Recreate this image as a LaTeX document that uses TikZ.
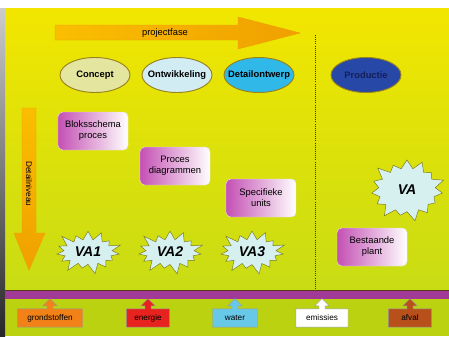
\documentclass[tikz,border=0pt]{standalone}
\usepackage{fontspec}
\setmainfont{Liberation Sans}
\usetikzlibrary{shapes.geometric,shapes.symbols,shapes.arrows,positioning}

\definecolor{geel}{RGB}{242,230,0}
\definecolor{geelgroen}{RGB}{200,220,20}
\definecolor{grasgroen}{RGB}{186,210,16}
\definecolor{oranje}{RGB}{250,190,0}
\definecolor{donkeroranje}{RGB}{240,160,0}
\definecolor{paars}{RGB}{160,58,150}
\definecolor{lila}{RGB}{196,80,180}
\definecolor{rand}{RGB}{150,130,30}
\definecolor{sterrand}{RGB}{120,120,30}
\definecolor{ijsblauw}{RGB}{214,240,240}

\tikzstyle{fase} = [ellipse, draw=rand, thick, minimum width=2.1cm, minimum height=1.05cm, inner sep=0pt,
     label={[font=\footnotesize\bfseries]center:#1}]
\tikzstyle{block} = [rectangle, draw=white!80!gray, rounded corners, left color=lila, right color=white,
     align=center, minimum width=2.1cm, minimum height=1.14cm, font=\footnotesize]
\tikzstyle{va} = [starburst, starburst points=15, starburst point height=0.35cm, draw=sterrand, fill=ijsblauw,
     font=\large\bfseries\itshape, minimum width=2.1cm, minimum height=1.35cm]
\tikzstyle{stroom} = [arrow box, arrow box arrows={north:0.3cm}, arrow box shaft width=0.18cm,
     arrow box head extend=0.13cm, draw=black!40, minimum height=0.55cm, inner sep=1pt, font=\scriptsize]

\begin{document}
\begin{tikzpicture}[x=0.03cm, y=-0.03cm, node distance=2.46cm]
    % Background
    \useasboundingbox (0,0) rectangle (449,336);
    \fill[white] (0,0) rectangle (449,336);
    \shade[top color=geel, bottom color=geelgroen] (5,8) rectangle (449,290);
    \fill[grasgroen] (5,299) rectangle (449,336);
    \shade[top color=black!20, bottom color=black!85] (0,8) rectangle (5,336);
    \fill[paars] (5,290) rectangle (449,299);
    \draw[black!55!brown, thick] (5,290) -- (449,290);

    % Arrows
    \draw[donkeroranje, left color=oranje, right color=donkeroranje]
        (55,25) -- (238,25) -- (238,17) -- (300,33) -- (238,49) -- (238,40) -- (55,40) -- cycle;
    \node [font=\footnotesize] (projectfase) at (165,33) {projectfase};
    \draw[donkeroranje, top color=oranje, bottom color=donkeroranje]
        (22,108) -- (36,108) -- (36,233) -- (45,233) -- (29,270) -- (14,233) -- (22,233) -- cycle;
    \node [rotate=-90, font=\scriptsize] (detailniveau) at (29,184) {Detailniveau};

    % Place nodes
    \node [fase=Concept, fill={rgb,255:red,228;green,230;blue,160}] (concept) at (95,75) {};
    \node [fase=Ontwikkeling, right of=concept, fill={rgb,255:red,210;green,236;blue,244}] (ontwikkeling) {};
    \node [fase=Detailontwerp, right of=ontwikkeling, fill={rgb,255:red,48;green,184;blue,232}] (detailontwerp) {};
    \node [fase={\color[RGB]{20,30,90}Productie}, right of=detailontwerp, node distance=3.21cm,
           fill={rgb,255:red,40;green,72;blue,168}] (productie) {};

    \node [block] (blokschema) at (93,131) {Bloksschema\\ proces};
    \node [block] (procesdiagrammen) at (175,166) {Proces\\ diagrammen};
    \node [block] (units) at (261,198) {Specifieke\\ units};
    \node [block] (bestaand) at (372,247) {Bestaande\\ plant};

    \node [va] (va1) at (88,252) {VA1};
    \node [va, right of=va1] (va2) {VA2};
    \node [va, right of=va2] (va3) {VA3};
    \node [va, minimum width=2.4cm, minimum height=2.0cm] (va) at (407,190) {VA};

    \node [stroom, fill={rgb,255:red,242;green,130;blue,24}, minimum width=1.95cm] (grondstoffen) at (50,318) {grondstoffen};
    \node [stroom, fill={rgb,255:red,232;green,34;blue,30}, minimum width=1.3cm] (energie) at (148,318) {energie};
    \node [stroom, fill={rgb,255:red,104;green,200;blue,232}, minimum width=1.35cm] (water) at (235,318) {water};
    \node [stroom, fill=white, minimum width=1.56cm] (emissies) at (322,318) {emissies};
    \node [stroom, fill={rgb,255:red,184;green,80;blue,28}, minimum width=1.3cm] (afval) at (410,318) {afval};

    % Separator
    \coordinate (grensboven) at (315,35);
    \coordinate (grensonder) at (315,290);
    \draw [densely dotted, thick, black!80] (grensboven) -- (grensonder);
\end{tikzpicture}
\end{document}
